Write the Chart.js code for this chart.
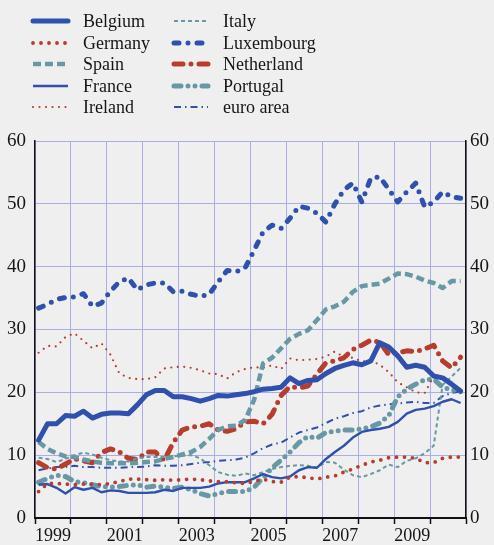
<!DOCTYPE html>
<html>
<head>
<meta charset="utf-8">
<script src="https://cdn.jsdelivr.net/npm/chart.js@4/dist/chart.umd.min.js"></script>
<style>
  html, body { margin: 0; padding: 0; background: #efefef; }
  canvas { display: block; background: #efefef; }
</style>
</head>
<body>
<canvas id="shareChart" width="494" height="545"></canvas>
<script>
// quarterly observations, 1999Q1 .. 2010Q4
const quarters = [];
for (let y = 1999; y <= 2010; y++) for (let q = 1; q <= 4; q++) quarters.push(y + 'Q' + q);

const yearTicks = [1999, 2001, 2003, 2005, 2007, 2009];

const belgium = [12.4, 15.0, 15.0, 16.3, 16.2, 17.0, 15.9, 16.5, 16.7, 16.7, 16.6, 18.0, 19.6, 20.3, 20.3, 19.3,
  19.3, 19.0, 18.6, 19.0, 19.5, 19.4, 19.6, 19.8, 20.1, 20.5, 20.6, 20.8, 22.3, 21.4, 21.9, 22.0,
  23.0, 23.8, 24.3, 24.7, 24.4, 25.0, 27.9, 27.2, 25.8, 24.0, 24.3, 24.0, 22.6, 22.3, 21.3, 20.2];
const germany = [4.2, 5.5, 5.5, 5.4, 5.3, 5.4, 5.4, 5.3, 5.5, 5.8, 6.2, 6.2, 6.1, 6.0, 6.1, 6.0,
  6.1, 6.2, 6.1, 5.9, 5.8, 5.8, 5.6, 5.5, 5.8, 6.2, 5.8, 5.7, 6.5, 6.6, 6.4, 6.2,
  6.5, 6.7, 7.3, 7.8, 8.4, 8.9, 9.2, 9.6, 9.7, 9.7, 9.5, 8.8, 8.8, 9.5, 9.7, 9.7];
const spain = [12.1, 11.0, 10.3, 9.8, 9.7, 9.3, 9.0, 8.8, 8.7, 8.7, 8.7, 8.8, 8.9, 9.0, 9.4, 9.7,
  10.1, 10.5, 11.3, 12.6, 14.0, 14.6, 14.7, 15.6, 18.8, 24.6, 25.5, 27.0, 28.5, 29.3, 29.9, 31.5,
  33.2, 33.7, 34.4, 36.0, 36.9, 37.1, 37.3, 38.1, 38.9, 38.8, 38.4, 37.8, 37.4, 36.6, 37.7, 37.7];
const france = [5.3, 5.4, 4.8, 3.9, 4.9, 4.5, 4.8, 4.1, 4.4, 4.3, 4.0, 4.0, 4.0, 4.1, 4.5, 4.3,
  4.8, 4.8, 4.8, 5.0, 5.5, 5.7, 5.7, 5.7, 6.3, 7.0, 6.5, 6.3, 6.6, 7.6, 8.1, 8.0,
  9.4, 10.5, 11.5, 12.8, 13.7, 14.0, 14.2, 14.5, 15.3, 16.6, 17.2, 17.4, 17.8, 18.5, 18.9, 18.3];
const ireland = [26.3, 27.4, 27.3, 28.8, 29.4, 28.2, 27.0, 27.8, 26.0, 23.0, 22.3, 22.1, 22.1, 22.4, 23.8, 24.0,
  24.1, 23.9, 23.5, 23.0, 22.9, 22.2, 23.2, 23.7, 24.0, 23.9, 24.3, 23.7, 25.4, 25.1, 25.2, 25.3,
  25.7, 26.5, 25.6, 25.5, 24.9, 25.0, 24.4, 23.2, 21.6, 20.8, 20.0, 19.9, 22.5, 22.0, 21.2, 20.4];
const italy = [9.6, 9.4, 8.9, 9.4, 10.0, 10.4, 10.1, 9.6, 9.2, 9.0, 9.0, 9.5, 9.7, 9.7, 9.7, 9.8,
  9.9, 10.0, 9.5, 8.4, 7.3, 6.9, 6.7, 7.1, 6.8, 7.3, 7.8, 8.1, 8.3, 8.4, 8.3, 8.0,
  8.9, 8.8, 7.7, 6.8, 6.5, 7.0, 7.6, 8.5, 8.1, 9.1, 9.5, 10.3, 11.5, 21.2, 22.5, 23.9];
const luxembourg = [33.4, 34.0, 34.8, 35.1, 35.2, 35.7, 33.7, 34.2, 36.1, 37.6, 38.2, 36.3, 37.1, 37.4, 37.4, 36.0,
  36.1, 35.6, 35.3, 35.6, 37.6, 39.4, 39.2, 39.8, 42.6, 45.5, 46.6, 46.1, 47.7, 49.6, 49.3, 48.5,
  47.1, 50.0, 52.2, 53.3, 50.3, 54.1, 54.3, 52.3, 50.3, 51.9, 53.3, 49.5, 50.3, 51.9, 51.1, 50.9];
const netherland = [8.8, 8.0, 7.8, 8.6, 9.4, 9.1, 8.8, 10.4, 11.0, 10.5, 9.5, 9.3, 10.5, 10.5, 9.2, 12.0,
  14.0, 14.5, 14.6, 15.0, 14.0, 13.8, 14.2, 15.3, 15.4, 15.0, 16.5, 19.5, 20.9, 20.7, 21.0, 22.9,
  24.7, 25.0, 25.5, 26.8, 27.5, 28.3, 28.0, 26.0, 26.3, 26.6, 26.5, 26.9, 27.5, 25.0, 23.9, 25.6];
const portugal = [5.7, 6.3, 6.8, 6.6, 5.8, 5.6, 5.3, 5.0, 4.9, 5.0, 5.2, 5.3, 4.9, 5.1, 4.9, 4.7,
  4.9, 4.5, 3.9, 3.5, 3.9, 4.2, 4.2, 4.2, 4.9, 6.4, 8.0, 9.2, 10.5, 12.0, 13.0, 12.7,
  13.6, 13.8, 14.0, 14.0, 14.2, 14.5, 15.1, 16.3, 19.3, 20.5, 21.3, 22.0, 22.1, 20.8, 20.4, 20.1];
const euroArea = [7.6, 7.9, 8.1, 8.1, 8.3, 8.1, 8.1, 8.0, 8.0, 8.0, 8.1, 8.1, 8.2, 8.4, 8.3, 8.3,
  8.4, 8.6, 8.8, 8.9, 9.1, 9.2, 9.3, 9.6, 10.3, 11.1, 11.7, 12.0, 12.8, 13.6, 14.0, 14.4,
  15.1, 15.8, 16.2, 16.7, 17.0, 17.6, 17.9, 18.1, 18.2, 18.4, 18.5, 18.3, 18.3, 19.4, 19.9, 20.1];

const BLUE = '#2f50ad';
const RED = '#b83d2c';
const TEAL = '#6898a6';
const GRID = '#a9ade8';
const SERIF = '"Liberation Serif", "Times New Roman", serif';

// place each quarter inside its year on a linear time axis
function toPoints(values) {
    return values.map((v, i) => {
        const [yr, q] = quarters[i].split('Q').map(Number);
        return { x: yr + (q - 1) / 4 + 0.1, y: v };
    });
}

function series(label, values, color, width, dash, cap) {
    return {
        label, data: toPoints(values), borderColor: color, backgroundColor: color,
        borderWidth: width, borderDash: dash, borderCapStyle: cap || 'butt',
        borderJoinStyle: 'round', pointRadius: 0, tension: 0, fill: false
    };
}

const datasets = [
    series('Belgium', belgium, BLUE, 5, [], 'round'),
    series('Germany', germany, RED, 3.8, [0, 8], 'round'),
    series('Spain', spain, TEAL, 4.5, [8, 4]),
    series('France', france, BLUE, 2.4, []),
    series('Ireland', ireland, RED, 2.2, [0, 6.5], 'round'),
    series('Italy', italy, TEAL, 2, [4, 3]),
    series('Luxembourg', luxembourg, BLUE, 5, [5, 9, 0, 9], 'round'),
    series('Netherland', netherland, RED, 5, [9, 8, 0, 8], 'round'),
    series('Portugal', portugal, TEAL, 5, [7, 7, 0, 7, 0, 7], 'round'),
    series('euro area', euroArea, BLUE, 2, [7, 4, 1.5, 4])
];

// two-column legend drawn above the plot
const columnLegend = {
    id: 'columnLegend',
    afterDraw(chart) {
        const ctx = chart.ctx;
        const cols = [{ x0: 33, x1: 68, tx: 83 }, { x0: 174, x1: 208, tx: 223 }];
        const rows = [21, 43, 64, 86, 107];
        chart.data.datasets.forEach((ds, i) => {
            const c = cols[Math.floor(i / 5)];
            const y = rows[i % 5];
            ctx.save();
            ctx.strokeStyle = ds.borderColor;
            ctx.lineWidth = ds.borderWidth;
            ctx.lineCap = ds.borderCapStyle;
            ctx.setLineDash(ds.borderDash);
            ctx.beginPath();
            ctx.moveTo(c.x0, y);
            ctx.lineTo(c.x1, y);
            ctx.stroke();
            ctx.setLineDash([]);
            ctx.fillStyle = '#151515';
            ctx.font = '18px ' + SERIF;
            ctx.textBaseline = 'middle';
            ctx.fillText(ds.label, c.tx, y + 1);
            ctx.restore();
        });
    }
};

new Chart(document.getElementById('shareChart'), {
    type: 'line',
    data: { datasets },
    plugins: [columnLegend],
    options: {
        responsive: false,
        animation: false,
        layout: { padding: { top: 141, left: 0, right: 0, bottom: 0 } },
        plugins: { legend: { display: false }, tooltip: { enabled: false } },
        scales: {
            x: {
                type: 'linear', min: 1999, max: 2011,
                afterFit: s => { s.height = 27; },
                afterBuildTicks: s => { s.ticks = []; for (let y = 1999; y <= 2011; y++) s.ticks.push({ value: y }); },
                grid: { color: GRID, lineWidth: 1, tickLength: 6, tickColor: '#111', tickWidth: 1.5 },
                border: { color: '#111', width: 2 },
                ticks: {
                    autoSkip: false, maxRotation: 0, padding: 1, labelOffset: 18,
                    color: '#151515', font: { family: SERIF, size: 18 },
                    callback: v => yearTicks.includes(v) ? String(v) : ''
                }
            },
            y: {
                position: 'left', min: 0, max: 60,
                afterFit: s => { s.width = 35; },
                grid: { color: GRID, lineWidth: 1, drawTicks: false },
                border: { color: '#111', width: 1.5 },
                ticks: { stepSize: 10, padding: 9, color: '#151515', font: { family: SERIF, size: 19 } }
            },
            y2: {
                position: 'right', min: 0, max: 60,
                afterFit: s => { s.width = 28; },
                grid: { drawOnChartArea: false, drawTicks: false },
                border: { color: '#111', width: 1.5 },
                ticks: { stepSize: 10, padding: 4, color: '#151515', font: { family: SERIF, size: 19 } }
            }
        }
    }
});
</script>
</body>
</html>
